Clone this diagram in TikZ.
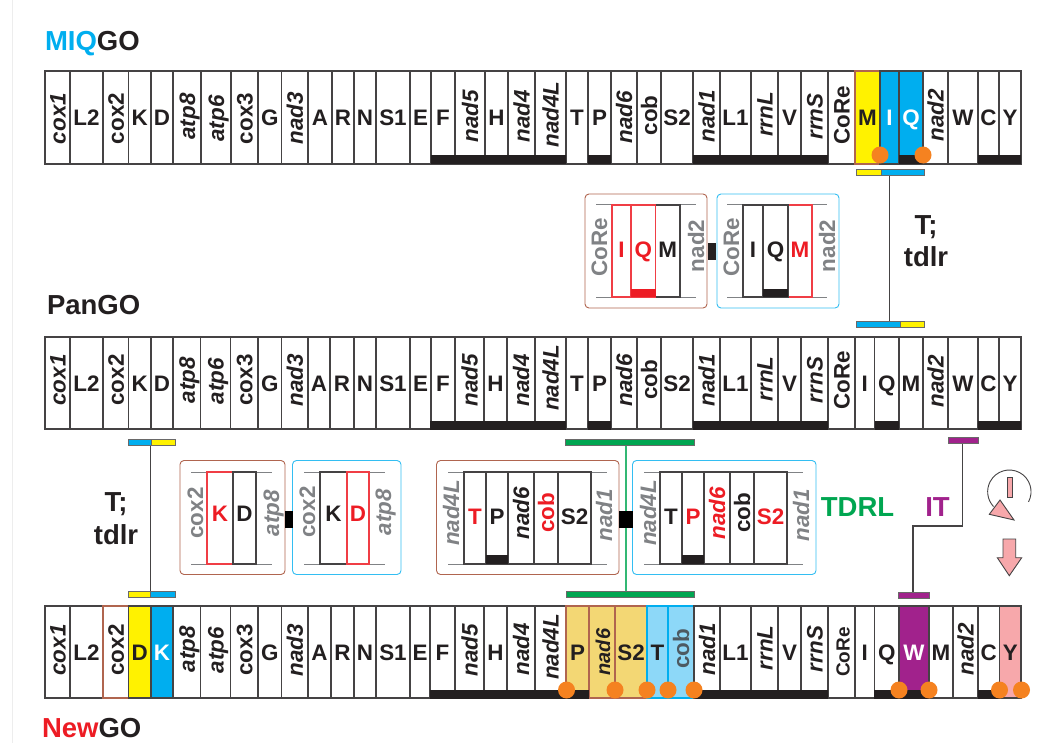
\documentclass[tikz,border=0pt]{standalone}
\usepackage{fontspec}
\setmainfont{Liberation Sans}
\definecolor{ink}{HTML}{231F20}
\definecolor{line}{HTML}{454344}
\definecolor{yel}{HTML}{FFF200}
\definecolor{cya}{HTML}{00AEEF}
\definecolor{redd}{HTML}{ED1C24}
\definecolor{ora}{HTML}{F58220}
\definecolor{gre}{HTML}{00A651}
\definecolor{pur}{HTML}{A1228C}
\definecolor{pnk}{HTML}{F7A8AB}
\definecolor{snd}{HTML}{F3D774}
\definecolor{lbl}{HTML}{8DD8F8}
\definecolor{bro}{HTML}{B0654F}
\definecolor{gry}{HTML}{808285}
\definecolor{dgr}{HTML}{4D5A62}
\tikzset{
  x=1pt,y=-1pt,
  every node/.style={inner sep=0pt,outer sep=0pt},
  base/.style={text height=16pt,text depth=0pt,anchor=center,font=\fontsize{22.4}{24}\selectfont\bfseries},
  gl/.style={base,text=ink},
  glw/.style={base,text=white},
  glr/.style={base,text=redd},
  gu/.style={base,rotate=90,text=ink},
  gus/.style={base,rotate=90,text=ink,font=\fontsize{19}{22}\selectfont\bfseries},
  gur/.style={base,rotate=90,text=redd},
  gug/.style={base,rotate=90,text=gry},
  gud/.style={base,rotate=90,text=dgr},
  gi/.style={base,rotate=90,text=ink,font=\fontsize{22.4}{24}\selectfont\bfseries\itshape},
  gis/.style={base,rotate=90,text=ink,font=\fontsize{20}{22}\selectfont\bfseries\itshape},
  gir/.style={base,rotate=90,text=redd,font=\fontsize{22.4}{24}\selectfont\bfseries\itshape},
  gig/.style={base,rotate=90,text=gry,font=\fontsize{22.4}{24}\selectfont\bfseries\itshape},
  cb/.style={draw=line,line width=1.1pt,fill=white},
  cr/.style={draw=redd!85,line width=1.1pt,fill=white},
  cy/.style={draw=line,line width=1.1pt,fill=yel},
  cyb/.style={draw=bro,line width=1.1pt,fill=yel},
  cc/.style={draw=line,line width=1.1pt,fill=cya},
  cbr/.style={draw=bro,line width=1.1pt,fill=white},
  cs/.style={draw=bro,line width=1.1pt,fill=snd},
  cl/.style={draw=cya,line width=1.1pt,fill=lbl},
  cp/.style={draw=line,line width=1.1pt,fill=pur},
  ck/.style={draw=line,line width=1.1pt,fill=pnk},
  band/.style={fill=ink},
  dot/.style={circle,fill=ora,minimum size=17pt},
  bar/.style={draw=line!80,line width=1pt},
  title/.style={font=\fontsize{27.5}{30}\selectfont\bfseries,text height=19.7pt,text depth=0pt},
  evt/.style={font=\fontsize{27.5}{30}\selectfont\bfseries,text height=19.7pt,text depth=0pt,anchor=center},
  conn/.style={draw=line,line width=1.1pt},
  frameb/.style={draw=bro,line width=.9pt,rounded corners=4pt,fill=white},
  framec/.style={draw=cya!80,line width=.9pt,rounded corners=4pt,fill=white},
  rule/.style={draw=gry,line width=1pt},
  symb/.style={draw=line,line width=.9pt,fill=pnk},
}
\newcommand\bx[6][]{\node[#1,minimum width={(#5-#3)*1pt},minimum height={(#6-#4)*1pt}] (#2) at ({(#3+#5)/2},{(#4+#6)/2}) {};}
\newcommand\cells[5]{% prefix, top, bottom, list, offset
  \foreach \a/\b/\t/\f/\d/\c [count=\i] in {#4}{
    \bx[\c]{#1c\i}{\a}{#2}{\b}{#3}
    \node[\f] (#1t\i) at ({(\a+\b)/2},{(#2+#3)/2+\d+#5}) {\t};
  }}
\begin{document}
\begin{tikzpicture}
\useasboundingbox (0,0) rectangle (1038,743);
\fill[white] (0,0) rectangle (1038,743);
\coordinate (ft) at (12.5,0); \coordinate (fb) at (12.5,743);
\draw[black!7,line width=.8pt] (ft) -- (fb);

% titles
\node[title,anchor=west] (tm) at (45,41) {\textcolor{cya}{MIQ}\textcolor{ink}{GO}};
\node[title,anchor=west,text=ink] (tp) at (47,305) {PanGO};
\node[title,anchor=west] (tn) at (42,728) {\textcolor{redd}{New}\textcolor{ink}{GO}};

% row 1
\cells{a}{71}{164}{45/70/cox1/gi/1/cb,70/103/L2/gl/0/cb,103/128.5/cox2/gu/1/cb,128.5/151/K/gl/0/cb,151/173/D/gl/0/cb,173/201/atp8/gi/-1/cb,201/231/atp6/gi/1/cb,231/258/cox3/gu/1/cb,258/281.5/G/gl/0/cb,281.5/308/nad3/gi/1/cb,308/332/A/gl/0/cb,332/354/R/gl/0/cb,354/376/N/gl/0/cb,376/410/S1/gl/0/cb,410/431/E/gl/0/cb,431/455/F/gl/0/cb,455/485/nad5/gi/-1/cb,485/508/H/gl/0/cb,508/535/nad4/gi/-1/cb,535/566/nad4L/gi/-3/cb,566/588/T/gl/0/cb,588/611/P/gl/0/cb,611/637/nad6/gi/0/cb,637/661/cob/gu/-2/cb,661/693/S2/gl/0/cb,693/720/nad1/gi/-1/cb,720/751/L1/gl/0/cb,751/778/rrnL/gi/-3/cb,778/801/V/gl/0/cb,801/828/rrnS/gi/-1/cb,828/855/CoRe/gu/-2/cb,855/880/M/gl/0/cyb,880/899/I/glw/0/cc,899/923/Q/glw/0/cc,923/948/nad2/gi/-2/cb,948/978/W/gl/0/cb,978/999/C/gl/0/cb,999/1021/Y/gl/0/cb}{0}
\foreach \a/\b [count=\i] in {431/566,588/611,693/828,899/923,978/1021}{\bx[band]{ab\i}{\a}{155}{\b}{164.4}}
\node[dot] (ad1) at (880,155) {};
\node[dot] (ad2) at (923,155) {};

% row 2
\cells{b}{337}{429}{45/70/cox1/gi/-3/cb,70/103/L2/gl/0/cb,103/128.5/cox2/gu/-3/cb,128.5/151/K/gl/0/cb,151/173/D/gl/0/cb,173/200.5/atp8/gi/-3/cb,200.5/230.5/atp6/gi/-2/cb,230.5/258/cox3/gu/-3/cb,258/281.5/G/gl/0/cb,281.5/308/nad3/gi/-3/cb,308/330/A/gl/0/cb,330/354/R/gl/0/cb,354/376/N/gl/0/cb,376/410/S1/gl/0/cb,410/431/E/gl/0/cb,431/455/F/gl/0/cb,455/484/nad5/gi/-3/cb,484/507/H/gl/0/cb,507/535/nad4/gi/-3/cb,535/566/nad4L/gi/-5/cb,566/588/T/gl/0/cb,588/611/P/gl/0/cb,611/637/nad6/gi/-3/cb,637/661/cob/gu/-3/cb,661/693/S2/gl/0/cb,693/720/nad1/gi/-3/cb,720/751/L1/gl/0/cb,751/778/rrnL/gi/-4/cb,778/801/V/gl/0/cb,801/828/rrnS/gi/-3/cb,828/855/CoRe/gu/-3/cb,855/874.5/I/gl/0/cb,874.5/899/Q/gl/0/cb,899/923/M/gl/0/cb,923/948/nad2/gi/-2/cb,948/978/W/gl/0/cb,978/999/C/gl/0/cb,999/1021/Y/gl/0/cb}{0}
\foreach \a/\b [count=\i] in {430/566,588/611,693/828,874.5/899,978/1021}{\bx[band]{bb\i}{\a}{421}{\b}{430}}

% row 3
\cells{n}{606}{698}{45/70/cox1/gi/-2/cb,70/103/L2/gl/0/cb,103/128.5/cox2/gu/-2/cbr,128.5/151/D/gl/0/cy,151/173/K/glw/0/cc,173/200.5/atp8/gi/-3/cb,200.5/230.5/atp6/gi/-2/cb,230.5/258/cox3/gu/-2/cb,258/281.5/G/gl/0/cb,281.5/308/nad3/gi/-2/cb,308/331/A/gl/0/cb,331/354/R/gl/0/cb,354/376/N/gl/0/cb,376/410/S1/gl/0/cb,410/430/E/gl/0/cb,430/455/F/gl/0/cb,455/484/nad5/gi/-2/cb,484/507/H/gl/0/cb,507/535/nad4/gi/-3/cb,535/566/nad4L/gi/-5/cb,566/589/P/gl/0/cs,589/615/nad6/gis/0/cs,615/647/S2/gl/0/cs,647/668/T/gl/0/cl,668/694/cob/gud/-3/cl,694/720/nad1/gi/-3/cb,720/751/L1/gl/0/cb,751/778/rrnL/gi/-4/cb,778/801/V/gl/0/cb,801/828/rrnS/gi/-3/cb,828/855/CoRe/gus/0/cb,855/874.5/I/gl/0/cb,874.5/899/Q/gl/0/cb,899/929/W/glw/0/cp,929/953/M/gl/0/cb,953/978/nad2/gi/-3/cb,978/999.5/C/gl/0/cb,999.5/1021/Y/gl/0/ck}{0}
\foreach \a/\b [count=\i] in {430/589,694/828,873.5/929,978/999.5}{\bx[band]{nb\i}{\a}{690}{\b}{699}}
\foreach \x [count=\i] in {566.5,615,647,668,694,899,929,999.5,1021.5}{\node[dot] (nd\i) at (\x,690) {};}

% connectors between bars
\coordinate (c1a) at (889.5,176); \coordinate (c1b) at (889.5,321);
\draw[conn] (c1a) -- (c1b);
\coordinate (c2a) at (150.5,445); \coordinate (c2b) at (150.5,591);
\draw[conn] (c2a) -- (c2b);
\coordinate (c3a) at (626,445); \coordinate (c3b) at (626,591);
\draw[draw=gre!80!white,line width=1.2pt] (c3a) -- (c3b);
\coordinate (c4a) at (962.7,444); \coordinate (c4c) at (913,526); \coordinate (c4b) at (913,592);
\draw[conn] (c4a) |- (c4c) -- (c4b);

% bars
\bx[bar,fill=yel]{ba1}{856}{170}{881}{176}
\bx[bar,fill=cya]{ba2}{881}{170}{924}{176}
\bx[bar,fill=cya]{ba3}{856}{321}{900}{327}
\bx[bar,fill=yel]{ba4}{900}{321}{924}{327}
\bx[bar,fill=cya]{ba5}{128}{439}{151}{445}
\bx[bar,fill=yel]{ba6}{151}{439}{175}{445}
\bx[bar,fill=yel]{ba7}{128}{591.5}{150.5}{597.5}
\bx[bar,fill=cya]{ba8}{150.5}{591.5}{175}{597.5}
\bx[bar,fill=gre]{ba9}{565.5}{439}{694}{445}
\bx[bar,fill=gre]{ba10}{566.5}{591.5}{694}{597.5}
\bx[bar,fill=pur]{ba11}{948}{437.5}{978}{443.5}
\bx[bar,fill=pur]{ba12}{898.5}{592}{929}{598}

% insets
\bx[frameb]{f1}{585}{194}{707}{308}
\bx[framec]{f2}{717}{194}{839}{308}
\bx[frameb]{f3}{180}{460.5}{285}{574.5}
\bx[framec]{f4}{292.5}{460.5}{401}{574.5}
\bx[frameb]{f5}{436.5}{460.5}{619}{574.5}
\bx[framec]{f6}{632.5}{460.5}{816}{574.5}
\bx[fill=ink]{s1}{708}{243}{716}{260}
\bx[fill=black]{s2}{285}{511}{292.5}{528}
\bx[fill=black]{s3}{619}{511}{632.5}{528}

% inset rules
\foreach \a/\b/\y [count=\i] in {596/696/205,596/696/297,727/827/205,727/827/297,191/272/472,191/272/564,304/385/472,304/385/564,448/607/472,448/607/564,644/803/472,644/803/564}{
  \coordinate (ra\i) at (\a,\y); \coordinate (rb\i) at (\b,\y);
  \draw[rule] (ra\i) -- (rb\i);
}

% inset cells
\cells{p}{205}{297}{612/631/I/glr/-1/cr,655.5/680/M/gl/-1/cb,631/655.5/Q/glr/-1/cr}{0}
\bx[fill=redd]{pb}{631}{289}{655.5}{297}
\cells{q}{205}{297}{788/812/M/glr/-1/cr,743/763/I/gl/-1/cb,763/788/Q/gl/-1/cb}{0}
\bx[fill=ink]{qb}{763}{289}{788}{297}
\cells{u}{472}{564}{207/233/K/glr/-5/cr,233/256/D/gl/-5/cb}{0}
\cells{v}{472}{564}{320/347/K/gl/-5/cb,347/369/D/glr/-5/cr}{0}
\cells{w}{472}{564}{464/486/T/glr/-2/cb,486/508/P/gl/-2/cb,508/534/nad6/gi/-5/cb,534/558/cob/gur/-5/cb,558/591/S2/gl/-2/cb}{0}
\bx[fill=ink]{wb}{486}{555}{508}{564}
\cells{z}{472}{564}{660/682/T/gl/-2/cb,682/704/P/glr/-2/cb,704/730/nad6/gir/-5/cb,730/754/cob/gu/-5/cb,754/787/S2/glr/-2/cb}{0}
\bx[fill=ink]{zb}{682}{555}{704}{564}

% inset flanks
\node[gug] (l1) at (599,247) {CoRe};
\node[gug] (l2) at (696,246) {nad2};
\node[gug] (l3) at (731,247) {CoRe};
\node[gug] (l4) at (827,246) {nad2};
\node[gug] (l5) at (195,513) {cox2};
\node[gig] (l6) at (271,513) {atp8};
\node[gug] (l7) at (307,512) {cox2};
\node[gig] (l8) at (383,512) {atp8};
\node[gig] (l9) at (451,513) {nad4L};
\node[gig] (l10) at (604,515) {nad1};
\node[gig] (l11) at (648,513) {nad4L};
\node[gig] (l12) at (801,515) {nad1};

% event labels
\node[evt,text=ink] (e1) at (926,225) {T;};
\node[evt,text=ink] (e2) at (926,257) {tdlr};
\node[evt,text=ink] (e3) at (116,502) {T;};
\node[evt,text=ink] (e4) at (116,535) {tdlr};
\node[evt,text=gre] (e5) at (857.5,507) {TDRL};
\node[evt,text=pur] (e6) at (937.5,507) {IT};

% symbols
\draw[line,line width=.9pt] (1028.5,501.9) arc[start angle=28,end angle=-223,radius=21.7];
\bx[symb]{y1}{1007.7}{477}{1012}{497.5}
\draw[symb,line join=miter] (1000,500) -- (989.3,514.3) -- (1014,520) -- cycle;
\draw[symb] (1003,539) -- (1015.7,539) -- (1015.7,557.7) -- (1021.7,557.7) -- (1009.3,575.7) -- (997.3,557.7) -- (1003,557.7) -- cycle;
\end{tikzpicture}
\end{document}
